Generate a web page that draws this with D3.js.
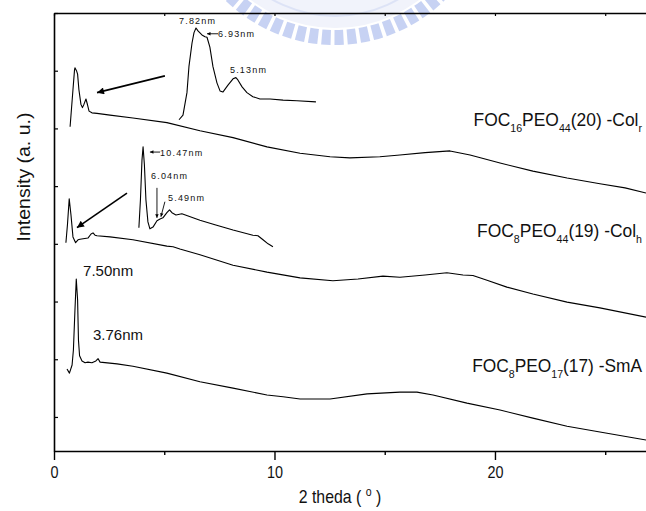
<!DOCTYPE html>
<html>
<head>
<meta charset="utf-8">
<script src="https://cdn.jsdelivr.net/npm/d3@7"></script>
<style>
  body { margin: 0; background: #fff; }
  text { font-family: "Liberation Sans", Arial, sans-serif; fill: #111; }
</style>
</head>
<body>
<svg id="chart" width="646" height="511"></svg>
<script>
// ---- data: [2 theta (deg), intensity (a.u.)] ----
const foc16peo44 = [[0.73,6.03],[0.86,6.67],[0.93,7.01],[0.95,7.05],[1.02,7.00],[1.07,6.94],[1.13,6.67],
  [1.22,6.42],[1.29,6.36],[1.36,6.42],[1.45,6.51],[1.52,6.41],[1.59,6.30],[1.72,6.27],[1.95,6.26],
  [2.54,6.23],[3.58,6.18],[5.12,6.10],[6.62,5.96],[8.12,5.84],[9.66,5.68],[11.16,5.57],[12.52,5.51],
  [13.42,5.49],[14.78,5.51],[15.69,5.54],[16.83,5.58],[17.96,5.61],[18.87,5.54],[20.23,5.40],
  [21.72,5.26],[23.27,5.14],[24.76,5.04],[25.90,4.97],[26.85,4.88]];

const foc16peo44Inset = [[5.67,6.15],[5.85,6.23],[6.03,6.62],[6.12,7.07],[6.26,7.48],[6.35,7.66],[6.44,7.74],
  [6.53,7.69],[6.71,7.62],[6.85,7.59],[6.94,7.58],[7.07,7.41],[7.21,7.07],[7.39,6.79],[7.53,6.65],
  [7.66,6.63],[7.89,6.75],[8.12,6.86],[8.25,6.88],[8.34,6.84],[8.53,6.72],[8.75,6.62],[9.02,6.55],
  [9.34,6.51],[9.80,6.51],[10.39,6.49],[11.02,6.48],[11.88,6.46]];

const foc8peo44 = [[0.54,4.02],[0.61,4.33],[0.69,4.78],[0.77,4.50],[0.86,4.12],[0.98,4.02],[1.09,4.07],
  [1.18,4.08],[1.54,4.10],[1.68,4.17],[1.77,4.19],[1.86,4.15],[1.95,4.14],[2.54,4.12],[3.58,4.07],
  [5.12,3.96],[5.40,3.95],[5.71,3.91],[6.62,3.81],[8.12,3.63],[9.66,3.51],[11.16,3.41],[12.65,3.36],
  [13.79,3.39],[14.92,3.44],[15.69,3.42],[16.83,3.46],[17.82,3.50],[18.55,3.46],[19.00,3.45],
  [19.64,3.37],[20.54,3.25],[21.72,3.13],[23.27,2.99],[24.76,2.89],[26.85,2.73]];

const foc8peo44Inset = [[3.85,4.28],[3.92,4.76],[3.99,5.45],[4.04,5.68],[4.10,5.37],[4.17,4.76],[4.26,4.38],
  [4.35,4.26],[4.49,4.29],[4.67,4.40],[4.81,4.43],[4.94,4.45],[5.12,4.54],[5.24,4.59],[5.35,4.54],
  [5.53,4.50],[5.80,4.52],[6.62,4.41],[7.30,4.33],[8.12,4.24],[9.02,4.15],[9.25,4.14],[9.48,4.07],
  [9.71,4.00],[9.93,3.95]];

const foc8peo17 = [[0.59,1.83],[0.70,1.76],[0.82,1.90],[0.88,2.16],[0.95,2.85],[1.01,3.39],[1.07,3.03],
  [1.11,2.33],[1.16,2.06],[1.27,1.97],[1.41,1.94],[1.54,1.95],[1.72,1.94],[1.90,1.97],[2.00,2.01],
  [2.09,1.95],[2.86,1.92],[3.58,1.88],[5.12,1.76],[6.62,1.61],[8.12,1.50],[9.66,1.38],[10.39,1.35],
  [11.16,1.31],[12.52,1.31],[14.20,1.40],[15.69,1.43],[16.46,1.43],[17.19,1.38],[18.73,1.24],
  [20.23,1.12],[21.72,0.98],[23.27,0.84],[24.76,0.74],[26.26,0.64],[26.85,0.60]];

const xMajorTicks = [0, 10, 20];
const xMinorTicks = [5, 15, 25];
const yTicks = [1, 2, 3, 4, 5, 6, 7, 8];

// sample names: [prefix, sub1, mid, sub2, rest, sub3], anchored at right end, width in the picture
const sampleLabels = [
  { parts: ["FOC", "16", "PEO", "44", "(20) -Col", "r"], at: [26.67, 6.04], w: 169 },
  { parts: ["FOC", "8", "PEO", "44", "(19) -Col", "h"], at: [26.67, 4.12], w: 165 },
  { parts: ["FOC", "8", "PEO", "17", "(17) -SmA", ""], at: [26.67, 1.78], w: 170 }
];

// d-spacing labels: text, [x, y] of left baseline, small inset style or not
const peakLabels = [
  { text: "7.82nm", at: [5.67, 7.81], small: true },
  { text: "6.93nm", at: [7.44, 7.59], small: true },
  { text: "5.13nm", at: [7.98, 6.96], small: true },
  { text: "10.47nm", at: [4.81, 5.53], small: true },
  { text: "6.04nm", at: [4.40, 5.13], small: true },
  { text: "5.49nm", at: [5.17, 4.75], small: true },
  { text: "7.50nm", at: [1.32, 3.44], small: false },
  { text: "3.76nm", at: [1.77, 2.33], small: false }
];

// arrows: from -> to (data coords), big or small head
const arrows = [
  { from: [5.03, 6.91], to: [1.95, 6.62], big: true },
  { from: [3.31, 4.88], to: [1.04, 4.28], big: true },
  { from: [7.44, 7.64], to: [6.94, 7.64], big: false },
  { from: [4.81, 5.59], to: [4.35, 5.59], big: false },
  { from: [4.67, 4.97], to: [4.67, 4.45], big: false },
  { from: [5.03, 4.73], to: [4.85, 4.47], big: false }
];

const chartSize = { width: 646, height: 511 };
const margin = { left: 54, right: 0, top: 13, bottom: 60 };
const width = chartSize.width - margin.left - margin.right;
const height = chartSize.height - margin.top - margin.bottom;

const svg = d3.select('#chart');

// faint logo watermark at the top
const wm = svg.append('g').attr('transform', 'translate(335,-112)').attr('opacity', 0.55);
wm.append('path')
  .attr('d', d3.arc()({ innerRadius: 112, outerRadius: 140, startAngle: 2.3, endAngle: 3.98 }))
  .attr('fill', '#e6eaf8');
wm.append('path')
  .attr('d', d3.arc()({ innerRadius: 127, outerRadius: 129, startAngle: 2.3, endAngle: 3.98 }))
  .attr('fill', '#c3cdf0');
d3.range(2.32, 3.96, 0.085).forEach(a => {
  wm.append('path')
    .attr('d', d3.arc()({ innerRadius: 142, outerRadius: 157, startAngle: a, endAngle: a + 0.06 }))
    .attr('fill', '#9aaeea');
});

const x = d3.scaleLinear().domain([0, 26.85]).range([0, width]);
const y = d3.scaleLinear().domain([0.41, 8]).range([height, 0]);

const g = svg.append('g').attr('transform', `translate(${margin.left},${margin.top})`);

// axes
g.append('g')
  .attr('class', 'x-axis')
  .attr('transform', `translate(0,${height})`)
  .call(d3.axisBottom(x).tickValues(xMajorTicks).tickSizeInner(9).tickSizeOuter(0).tickPadding(7))
  .call(a => a.select('.domain').attr('stroke-width', 1.6))
  .call(a => a.selectAll('line').attr('stroke-width', 1.4))
  .call(a => a.selectAll('text').attr('font-size', 16).attr('fill', '#111')
    .attr('font-family', '"Liberation Sans", Arial, sans-serif'));

g.append('g')
  .attr('transform', `translate(0,${height})`)
  .call(d3.axisBottom(x).tickValues(xMinorTicks).tickSizeInner(4).tickSizeOuter(0).tickFormat(''))
  .call(a => a.select('.domain').remove())
  .call(a => a.selectAll('line').attr('stroke-width', 1.4));

g.append('g')
  .call(d3.axisTop(x).tickValues(xMajorTicks.concat(xMinorTicks)).tickSizeInner(-3).tickSizeOuter(0).tickFormat(''))
  .call(a => a.select('.domain').attr('stroke-width', 1.6))
  .call(a => a.selectAll('line').attr('stroke-width', 1.2));

g.append('g')
  .call(d3.axisLeft(y).tickValues(yTicks).tickSizeInner(-4).tickSizeOuter(0).tickFormat(''))
  .call(a => a.select('.domain').attr('stroke-width', 1.6))
  .call(a => a.selectAll('line').attr('stroke-width', 1.2));

// curves
const line = d3.line().x(d => x(d[0])).y(d => y(d[1]));
[foc16peo44, foc16peo44Inset, foc8peo44, foc8peo44Inset, foc8peo17].forEach(series => {
  g.append('path')
    .datum(series)
    .attr('d', line)
    .attr('fill', 'none')
    .attr('stroke', '#000')
    .attr('stroke-width', 1.1)
    .attr('stroke-linejoin', 'round');
});

// arrows
const defs = svg.append('defs');
defs.append('marker').attr('id', 'headBig')
  .attr('viewBox', '0 0 10 10').attr('refX', 10).attr('refY', 5)
  .attr('markerWidth', 12).attr('markerHeight', 7).attr('markerUnits', 'userSpaceOnUse')
  .attr('orient', 'auto')
  .append('path').attr('d', 'M0,0L10,5L0,10Z').attr('fill', '#000');
defs.append('marker').attr('id', 'headSmall')
  .attr('viewBox', '0 0 10 10').attr('refX', 10).attr('refY', 5)
  .attr('markerWidth', 5).attr('markerHeight', 3.5).attr('markerUnits', 'userSpaceOnUse')
  .attr('orient', 'auto')
  .append('path').attr('d', 'M0,0L10,5L0,10Z').attr('fill', '#000');

g.selectAll('.arrow')
  .data(arrows)
  .enter()
  .append('line')
  .attr('class', 'arrow')
  .attr('x1', d => x(d.from[0])).attr('y1', d => y(d.from[1]))
  .attr('x2', d => x(d.to[0])).attr('y2', d => y(d.to[1]))
  .attr('stroke', '#000')
  .attr('stroke-width', d => d.big ? 1.6 : 0.9)
  .attr('marker-end', d => d.big ? 'url(#headBig)' : 'url(#headSmall)');

// peak labels
g.selectAll('.peak')
  .data(peakLabels)
  .enter()
  .append('text')
  .attr('class', 'peak')
  .attr('x', d => x(d.at[0]))
  .attr('y', d => y(d.at[1]))
  .attr('font-size', d => d.small ? 9 : 15)
  .attr('letter-spacing', d => d.small ? 1.2 : 0)
  .text(d => d.text);

// squeeze text horizontally to the width it has in the picture
const squeeze = (node, k) => {
  const tx = +node.getAttribute('x') || 0, ty = +node.getAttribute('y') || 0;
  node.setAttribute('transform', `translate(${tx},${ty}) scale(${k},1) translate(${-tx},${-ty})`);
};

// sample names with subscripts
g.selectAll('.sample')
  .data(sampleLabels)
  .enter()
  .append('text')
  .attr('class', 'sample')
  .attr('x', d => x(d.at[0]))
  .attr('y', d => y(d.at[1]))
  .attr('text-anchor', 'end')
  .attr('font-size', 18)
  .each(function (d) {
    const t = d3.select(this);
    d.parts.forEach((p, i) => {
      if (!p) return;
      const sub = i % 2 === 1;
      t.append('tspan')
        .attr('font-size', sub ? 11 : 18)
        .attr('dy', sub ? 6 : (i > 0 ? -6 : 0))
        .text(p);
    });
    squeeze(this, d.w / this.getBBox().width);
  });

g.selectAll('.x-axis text').each(function () { squeeze(this, 0.9); });

// axis titles
const xt = g.append('text')
  .attr('x', 286)
  .attr('y', height + 52)
  .attr('text-anchor', 'middle')
  .attr('font-size', 18);
xt.append('tspan').text('2 theda ( ');
xt.append('tspan').attr('font-size', 12).attr('dy', -7).text('o');
xt.append('tspan').attr('dy', 7).text(' )');
squeeze(xt.node(), 0.88);

const yt = svg.append('g')
  .attr('transform', 'translate(30,177) rotate(-90)')
  .append('text')
  .attr('x', 0).attr('y', 0)
  .attr('text-anchor', 'middle')
  .attr('font-size', 18)
  .text('Intensity (a. u.)');
squeeze(yt.node(), 129 / yt.node().getBBox().width);
</script>
</body>
</html>
